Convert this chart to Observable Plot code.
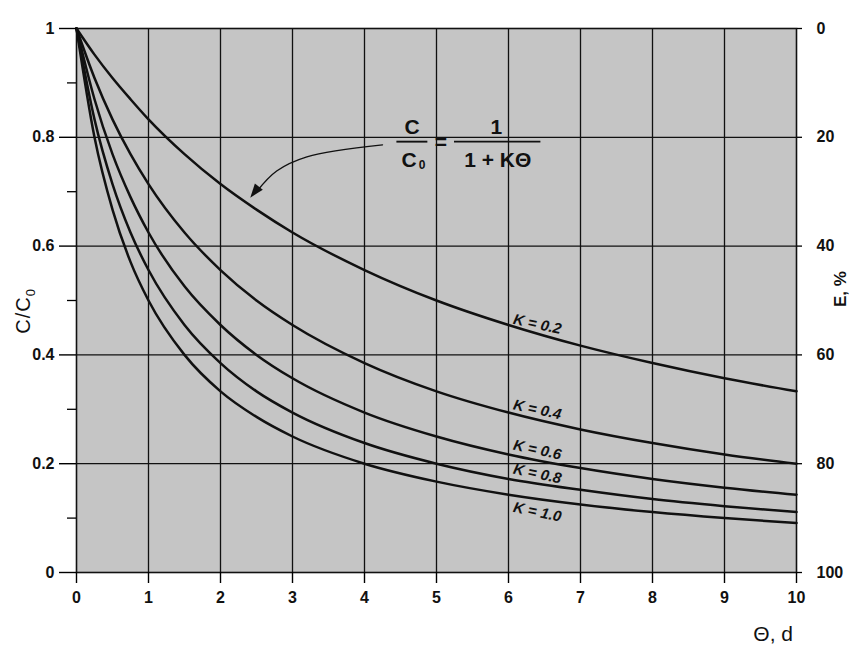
<!DOCTYPE html>
<html>
<head>
<meta charset="utf-8">
<script src="https://cdn.jsdelivr.net/npm/d3@7"></script>
<script src="https://cdn.jsdelivr.net/npm/@observablehq/plot@0.6"></script>
<style>
  body { margin: 0; background: #fff; }
  #chart { width: 854px; height: 665px; }
  #chart svg { font-family: "Liberation Sans", Arial, Helvetica, sans-serif; }
</style>
</head>
<body>
<div id="chart"></div>
<script>
// Residence time θ (days) at which each curve is sampled
const theta = [0, 0.25, 0.5, 0.75, 1, 1.5, 2, 2.5, 3, 4, 5, 6, 7, 8, 9, 10];

// C/C0 for each decay constant K
const ratioK02 = [1, 0.952, 0.909, 0.870, 0.833, 0.769, 0.714, 0.667, 0.625, 0.556, 0.500, 0.455, 0.417, 0.385, 0.357, 0.333];
const ratioK04 = [1, 0.909, 0.833, 0.769, 0.714, 0.625, 0.556, 0.500, 0.455, 0.385, 0.333, 0.294, 0.263, 0.238, 0.217, 0.200];
const ratioK06 = [1, 0.870, 0.769, 0.690, 0.625, 0.526, 0.455, 0.400, 0.357, 0.294, 0.250, 0.217, 0.192, 0.172, 0.156, 0.143];
const ratioK08 = [1, 0.833, 0.714, 0.625, 0.556, 0.455, 0.385, 0.333, 0.294, 0.238, 0.200, 0.172, 0.152, 0.135, 0.122, 0.111];
const ratioK10 = [1, 0.800, 0.667, 0.571, 0.500, 0.400, 0.333, 0.286, 0.250, 0.200, 0.167, 0.143, 0.125, 0.111, 0.100, 0.091];

const kValues = [0.2, 0.4, 0.6, 0.8, 1.0];
const curveLabels = ["K = 0.2", "K = 0.4", "K = 0.6", "K = 0.8", "K = 1.0"];
// C/C0 of each curve where its label sits (θ = 6.4)
const labelTheta = 6.4;
const labelRatio = [0.438, 0.281, 0.207, 0.163, 0.135];

// Axis ticks
const ratioTicks = [0, 0.2, 0.4, 0.6, 0.8, 1];
const ratioTickLabels = ["0", "0.2", "0.4", "0.6", "0.8", "1"];
const ratioMinorTicks = [0.1, 0.3, 0.5, 0.7, 0.9];
const removalTickLabels = ["100", "80", "60", "40", "20", "0"];
const thetaTicks = [0, 1, 2, 3, 4, 5, 6, 7, 8, 9, 10];

const seriesList = [ratioK02, ratioK04, ratioK06, ratioK08, ratioK10];
const rows = kValues.flatMap((k, j) =>
  theta.map((t, i) => ({k, theta: t, ratio: seriesList[j][i]}))
);
const labelRows = kValues.map((k, j) => ({
  k, theta: labelTheta, ratio: labelRatio[j], text: curveLabels[j], below: k === 1.0
}));

const ink = "#111";
const bar = 0.792; // level of the formula's fraction bars
const formulaFont = {fontSize: 21, fontWeight: "bold", fill: ink};

const plot = Plot.plot({
  width: 854,
  height: 665,
  marginLeft: 76,
  marginRight: 58,
  marginTop: 28,
  marginBottom: 93,
  x: {domain: [0, 10]},
  y: {domain: [0, 1]},
  marks: [
    Plot.frame({fill: "url(#halftone)", stroke: "none"}),
    Plot.ruleX(thetaTicks.slice(1, -1), {stroke: ink, strokeWidth: 1.3}),
    Plot.ruleY([0.2, 0.4, 0.6, 0.8], {stroke: ink, strokeWidth: 1.3}),
    Plot.line(rows, {x: "theta", y: "ratio", z: "k", curve: "monotone-x", stroke: ink, strokeWidth: 2.5}),
    Plot.frame({stroke: ink, strokeWidth: 1.6}),
    // left axis: C/C0
    Plot.axisY({ticks: ratioTicks, tickSize: 17, tickPadding: 5, strokeWidth: 1.4,
      tickFormat: d => ratioTickLabels[ratioTicks.indexOf(d)],
      fontSize: 16, fontWeight: "bold", label: null, fill: ink}),
    Plot.axisY({ticks: ratioMinorTicks, tickSize: 9, strokeWidth: 1.3, tickFormat: () => "", label: null}),
    // right axis: removal E, %
    Plot.axisY({anchor: "right", ticks: ratioTicks, tickSize: 5, tickPadding: 15, strokeWidth: 1.3,
      tickFormat: d => removalTickLabels[ratioTicks.indexOf(d)],
      fontSize: 16, fontWeight: "bold", label: null, fill: ink}),
    // bottom axis: θ
    Plot.axisX({ticks: thetaTicks, tickSize: 11, tickPadding: 8, strokeWidth: 1.4,
      tickFormat: d => String(d), fontSize: 16, fontWeight: "bold", label: null, fill: ink}),
    // curve labels
    Plot.text(labelRows.filter(d => !d.below), {x: "theta", y: "ratio", text: "text", rotate: 12, dy: -10,
      fontSize: 15, fontWeight: "bold", fontStyle: "italic", fill: ink}),
    Plot.text(labelRows.filter(d => d.below), {x: "theta", y: "ratio", text: "text", rotate: 12, dy: 13,
      fontSize: 15, fontWeight: "bold", fontStyle: "italic", fill: ink}),
    // formula C/C0 = 1/(1 + KΘ)
    Plot.ruleY([bar], {x1: 4.45, x2: 4.88, stroke: ink, strokeWidth: 1.9}),
    Plot.ruleY([bar], {x1: 5.25, x2: 6.45, stroke: ink, strokeWidth: 1.9}),
    Plot.text(["C"], {x: 4.66, y: bar, dy: -14, text: d => d, ...formulaFont}),
    Plot.text(["C"], {x: 4.62, y: bar, dy: 19, text: d => d, ...formulaFont}),
    Plot.text(["0"], {x: 4.8, y: bar, dy: 24, text: d => d, fontSize: 12, fontWeight: "bold", fill: ink}),
    Plot.text(["="], {x: 5.06, y: bar, dy: 1, text: d => d, ...formulaFont}),
    Plot.text(["1"], {x: 5.83, y: bar, dy: -14, text: d => d, ...formulaFont}),
    Plot.text(["1 + KΘ"], {x: 5.85, y: bar, dy: 19, text: d => d, ...formulaFont}),
    // leader from the formula to the K = 0.2 curve
    Plot.line([{x: 4.25, y: 0.786}, {x: 3.2, y: 0.764}, {x: 2.78, y: 0.738}, {x: 2.5, y: 0.70}],
      {x: "x", y: "y", curve: "catmull-rom", stroke: ink, strokeWidth: 1.4})
  ]
});

const svg = d3.select(plot);
svg.insert("defs", ":first-child").html(
  `<pattern id="halftone" width="2" height="2" patternUnits="userSpaceOnUse">
     <rect width="2" height="2" fill="#e6e6e6"/>
     <rect x="0" y="0" width="1" height="1" fill="#a4a4a4"/>
     <rect x="1" y="1" width="1" height="1" fill="#a4a4a4"/>
   </pattern>`
);

const sx = plot.scale("x").apply, sy = plot.scale("y").apply;

// filled arrowhead at the end of the leader
const tip = [sx(2.42), sy(0.688)];
const from = [sx(2.62), sy(0.722)];
const ang = Math.atan2(tip[1] - from[1], tip[0] - from[0]);
const len = 14, half = 5;
const bx = tip[0] - len * Math.cos(ang), by = tip[1] - len * Math.sin(ang);
const px = -Math.sin(ang) * half, py = Math.cos(ang) * half;
svg.append("path")
  .attr("d", `M${tip[0]},${tip[1]}L${bx + px},${by + py}L${bx - px},${by - py}Z`)
  .attr("fill", ink);

// axis titles
const yTitle = svg.append("text")
  .attr("transform", `translate(30,${sy(0.48)}) rotate(-90)`)
  .attr("text-anchor", "middle").attr("font-size", 20).attr("fill", ink)
  .attr("letter-spacing", 1);
yTitle.append("tspan").text("C/C");
yTitle.append("tspan").attr("font-size", 13).attr("dy", 5).text("0");

svg.append("text")
  .attr("transform", `translate(846,${sy(0.52)}) rotate(-90)`)
  .attr("text-anchor", "middle").attr("font-size", 17).attr("font-weight", "bold").attr("fill", ink)
  .text("E, %");

svg.append("text")
  .attr("x", 793).attr("y", 641)
  .attr("text-anchor", "end").attr("font-size", 21).attr("fill", ink)
  .text("Θ, d");

document.getElementById("chart").appendChild(plot);
</script>
</body>
</html>
